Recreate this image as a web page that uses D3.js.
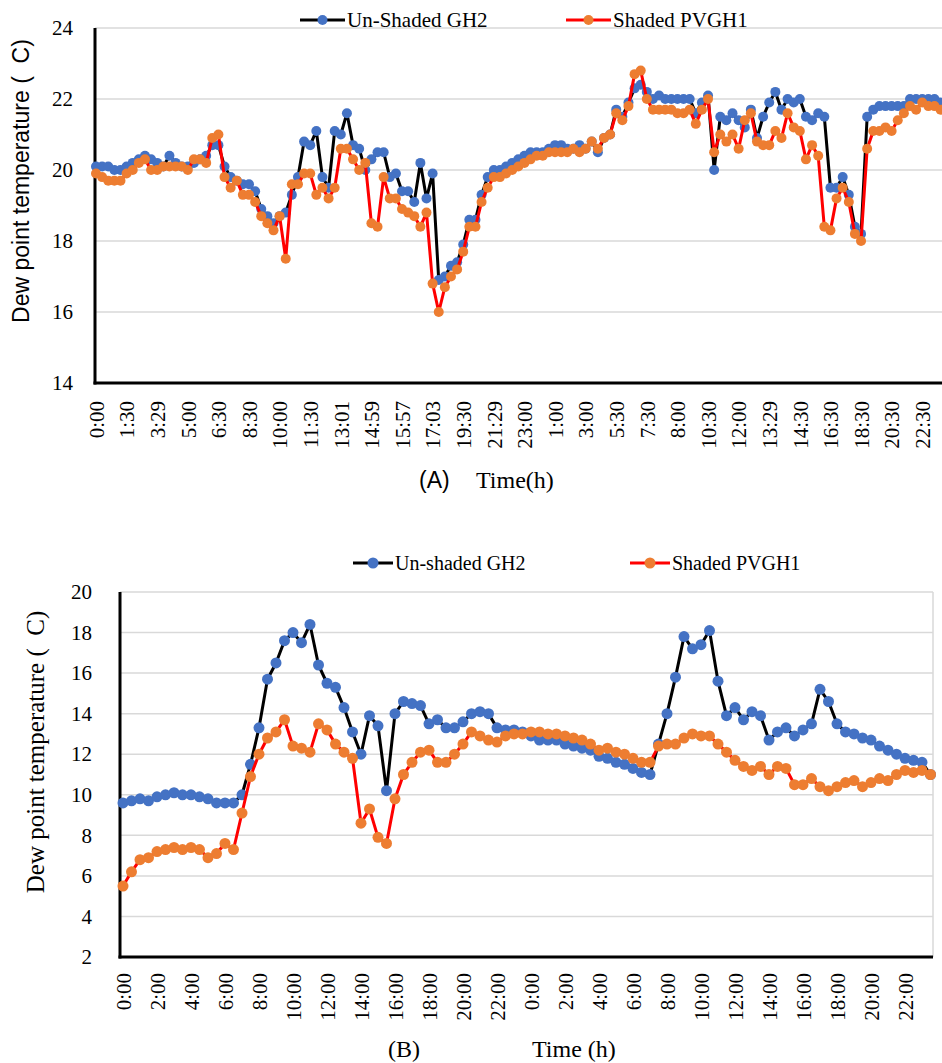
<!DOCTYPE html>
<html>
<head>
<meta charset="utf-8">
<script src="https://cdn.jsdelivr.net/npm/d3@7"></script>
<style>
  body { margin: 0; background: #fff; }
  text { font-family: "Liberation Serif", "Times New Roman", serif; fill: #000; }
</style>
</head>
<body>
<script>
// ---- panel A: two days, irregular logging times ----
const ticksA = ['0:00','1:30','3:29','5:00','6:30','8:30','10:00','11:30','13:01','14:59','15:57','17:03',
  '19:30','21:29','23:00','1:00','3:00','5:30','7:30','8:00','10:30','12:00','13:29','14:30','16:30',
  '18:30','20:30','22:30']

const unshadedA = [
  20.1,20.1,20.1,20.0,20.0,20.1,20.2,20.3,20.4,20.3, 20.2,20.1,20.4,20.2,20.1,20.1,20.2,20.3,20.4,20.7,
  20.7,20.1,19.8,19.7,19.6,19.6,19.4,18.9,18.7,18.5, 18.7,18.8,19.3,19.8,20.8,20.7,21.1,19.8,19.5,21.1,
  21.0,21.6,20.7,20.6,20.0,20.3,20.5,20.5,19.8,19.9, 19.4,19.4,19.1,20.2,19.2,19.9,16.9,17.0,17.3,17.4,
  17.9,18.6,18.6,19.3,19.8,20.0,20.0,20.1,20.2,20.3, 20.4,20.5,20.5,20.5,20.6,20.7,20.7,20.6,20.6,20.7,
  20.6,20.8,20.5,20.9,21.0,21.7,21.5,21.9,22.3,22.4, 22.2,22.0,22.1,22.0,22.0,22.0,22.0,22.0,21.6,21.9,
  22.1,20.0,21.5,21.4,21.6,21.4,21.2,21.7,20.9,21.5, 21.9,22.2,21.7,22.0,21.9,22.0,21.5,21.4,21.6,21.5,
  19.5,19.5,19.8,19.3,18.4,18.2,21.5,21.7,21.8,21.8, 21.8,21.8,21.8,22.0,22.0,22.0,22.0,22.0,21.9
]

const shadedA = [
  19.9,19.8,19.7,19.7,19.7,19.9,20.0,20.2,20.3,20.0, 20.0,20.1,20.1,20.1,20.1,20.0,20.3,20.3,20.2,20.9,
  21.0,19.8,19.5,19.7,19.3,19.3,19.1,18.7,18.5,18.3, 18.7,17.5,19.6,19.6,19.9,19.9,19.3,19.5,19.2,19.5,
  20.6,20.6,20.3,20.0,20.2,18.5,18.4,19.8,19.2,19.2, 18.9,18.8,18.7,18.4,18.8,16.8,16.0,16.7,17.0,17.2,
  17.7,18.4,18.4,19.1,19.5,19.8,19.8,19.9,20.0,20.1, 20.2,20.3,20.4,20.4,20.5,20.5,20.5,20.5,20.6,20.5,
  20.6,20.8,20.6,20.9,21.0,21.6,21.4,21.8,22.7,22.8, 22.0,21.7,21.7,21.7,21.7,21.6,21.6,21.7,21.3,21.7,
  22.0,20.5,21.0,20.8,21.0,20.6,21.4,21.6,20.8,20.7, 20.7,21.1,20.9,21.6,21.2,21.1,20.3,20.7,20.4,18.4,
  18.3,19.2,19.5,19.1,18.2,18.0,20.6,21.1,21.1,21.2, 21.1,21.4,21.6,21.8,21.7,21.9,21.8,21.8,21.7
]

// ---- panel B: two days, half-hourly ----
const ticksB = ['0:00','2:00','4:00','6:00','8:00','10:00','12:00','14:00','16:00','18:00','20:00','22:00',
  '0:00','2:00','4:00','6:00','8:00','10:00','12:00','14:00','16:00','18:00','20:00','22:00']

const unshadedB = [
  9.6,9.7,9.8,9.7,9.9,10.0,10.1,10.0,10.0,9.9, 9.8,9.6,9.6,9.6,10.0,11.5,13.3,15.7,16.5,17.6,
  18.0,17.5,18.4,16.4,15.5,15.3,14.3,13.1,12.0,13.9, 13.4,10.2,14.0,14.6,14.5,14.4,13.5,13.7,13.3,13.3,
  13.6,14.0,14.1,14.0,13.3,13.2,13.2,13.1,12.9,12.7, 12.7,12.7,12.5,12.4,12.3,12.2,11.9,11.8,11.6,11.5,
  11.3,11.1,11.0,12.5,14.0,15.8,17.8,17.2,17.4,18.1, 15.6,13.9,14.3,13.7,14.1,13.9,12.7,13.1,13.3,12.9,
  13.2,13.5,15.2,14.6,13.5,13.1,13.0,12.8,12.7,12.4, 12.2,12.0,11.8,11.7,11.6,11.0
]

const shadedB = [
  5.5,6.2,6.8,6.9,7.2,7.3,7.4,7.3,7.4,7.3, 6.9,7.1,7.6,7.3,9.1,10.9,12.0,12.8,13.1,13.7,
  12.4,12.3,12.1,13.5,13.2,12.5,12.1,11.8,8.6,9.3, 7.9,7.6,9.8,11.0,11.6,12.1,12.2,11.6,11.6,12.0,
  12.5,13.1,12.9,12.7,12.6,12.9,13.0,13.0,13.1,13.1, 13.0,13.0,12.9,12.8,12.7,12.5,12.2,12.3,12.1,12.0,
  11.8,11.6,11.6,12.4,12.5,12.5,12.8,13.0,12.9,12.9, 12.5,12.1,11.7,11.4,11.2,11.4,11.0,11.4,11.3,10.5,
  10.5,10.8,10.4,10.2,10.4,10.6,10.7,10.4,10.6,10.8, 10.7,11.0,11.2,11.1,11.2,11.0
]

const w = 942
const h = 1063

const blue = '#4472C4'
const orange = '#ED7D31'

const svg = d3.select('body')
              .append('svg')
              .attr('width', w)
              .attr('height', h)

drawPanel = (cfg) => {
  const xScale = d3.scaleLinear()
                   .domain([0, cfg.series[0].values.length - 1])
                   .range([cfg.firstX, cfg.lastX])

  const yScale = d3.scaleLinear()
                   .domain(cfg.yDomain)
                   .range([cfg.bottom, cfg.top])

  const yTicks = d3.range(cfg.yDomain[0], cfg.yDomain[1] + 0.01, 2)

  // gridlines
  svg.append('g')
     .selectAll('line')
     .data(yTicks)
     .enter()
     .append('line')
     .attr('x1', cfg.left)
     .attr('x2', cfg.right)
     .attr('y1', d => yScale(d))
     .attr('y2', d => yScale(d))
     .attr('stroke', '#d9d9d9')
     .attr('stroke-width', 1.5)

  if (cfg.frame) {
    svg.append('line')
       .attr('x1', cfg.right).attr('x2', cfg.right)
       .attr('y1', cfg.top).attr('y2', cfg.bottom)
       .attr('stroke', '#d9d9d9')
       .attr('stroke-width', 1.5)
  }

  // y labels
  const yAxis = d3.axisLeft(yScale)
                  .tickValues(yTicks)
                  .tickSize(0)
                  .tickPadding(cfg.yPad)
  const gy = svg.append('g')
                .attr('transform', `translate(${cfg.left}, 0)`)
                .call(yAxis)
  gy.select('.domain').remove()
  gy.selectAll('text')
    .style('font-family', '"Liberation Serif", serif')
    .style('font-size', '21px')
    .attr('fill', '#000')

  // x labels, vertical
  const xAxis = d3.axisBottom(xScale)
                  .tickValues(cfg.ticks.map((t, k) => k * cfg.every))
                  .tickFormat((d) => cfg.ticks[d / cfg.every])
                  .tickSize(0)
  const gx = svg.append('g')
                .attr('transform', `translate(0, ${cfg.bottom})`)
                .call(xAxis)
  gx.select('.domain').remove()
  gx.selectAll('text')
    .attr('transform', 'rotate(-90)')
    .attr('x', -cfg.xPad)
    .attr('y', 0)
    .attr('dy', '0.35em')
    .style('text-anchor', 'end')
    .style('font-family', '"Liberation Serif", serif')
    .style('font-size', '21px')
    .attr('fill', '#000')

  // axis lines
  svg.append('line')
     .attr('x1', cfg.left).attr('x2', cfg.left)
     .attr('y1', cfg.top).attr('y2', cfg.bottom + 1.5)
     .attr('stroke', '#000').attr('stroke-width', 3)
  svg.append('line')
     .attr('x1', cfg.left - 1.5).attr('x2', cfg.right)
     .attr('y1', cfg.bottom).attr('y2', cfg.bottom)
     .attr('stroke', '#000').attr('stroke-width', 3)

  const line = d3.line()
                 .x((d, i) => xScale(i))
                 .y((d) => yScale(d))

  cfg.series.forEach(s => {
    svg.append('path')
       .datum(s.values)
       .attr('d', line)
       .attr('fill', 'none')
       .attr('stroke', s.stroke)
       .attr('stroke-width', 3)
       .attr('stroke-linejoin', 'round')

    svg.append('g')
       .selectAll('circle')
       .data(s.values)
       .enter()
       .append('circle')
       .attr('cx', (d, i) => xScale(i))
       .attr('cy', (d) => yScale(d))
       .attr('r', cfg.r)
       .attr('fill', s.fill)
  })

  // legend
  cfg.series.forEach(s => {
    const lg = svg.append('g')
    lg.append('line')
      .attr('x1', s.legendX).attr('x2', s.legendX + cfg.legendLen)
      .attr('y1', cfg.legendY).attr('y2', cfg.legendY)
      .attr('stroke', s.stroke).attr('stroke-width', 3)
    lg.append('circle')
      .attr('cx', s.legendX + cfg.legendLen / 2)
      .attr('cy', cfg.legendY)
      .attr('r', cfg.r)
      .attr('fill', s.fill)
    lg.append('text')
      .attr('x', s.legendX + cfg.legendLen + 2)
      .attr('y', cfg.legendY)
      .attr('dy', '0.35em')
      .style('font-size', cfg.legendSize + 'px')
      .text(s.name)
  })
}

drawPanel({
  series: [
    {name: 'Un-Shaded GH2', values: unshadedA, stroke: '#000', fill: blue, legendX: 300},
    {name: 'Shaded PVGH1', values: shadedA, stroke: '#ff0000', fill: orange, legendX: 566}
  ],
  ticks: ticksA, every: 5,
  yDomain: [14, 24],
  left: 95, right: 942, firstX: 96, lastX: 940.6,
  top: 28, bottom: 383,
  yPad: 22, xPad: 18, r: 5,
  legendY: 20, legendLen: 45, legendSize: 21
})

drawPanel({
  series: [
    {name: 'Un-shaded GH2', values: unshadedB, stroke: '#000', fill: blue, legendX: 353},
    {name: 'Shaded PVGH1', values: shadedB, stroke: '#ff0000', fill: orange, legendX: 630}
  ],
  ticks: ticksB, every: 4,
  yDomain: [2, 20],
  left: 120, right: 933, firstX: 123, lastX: 930.5,
  top: 592, bottom: 957,
  yPad: 28, xPad: 16, r: 5.5, frame: true,
  legendY: 563, legendLen: 40, legendSize: 20
})

// axis titles
svg.append('text')
   .attr('transform', 'translate(21, 181) rotate(-90)')
   .attr('dy', '0.35em')
   .style('text-anchor', 'middle')
   .style('font-family', '"Liberation Sans", Arial, sans-serif')
   .style('font-size', '23px')
   .text('Dew point temperature (\u00a0\u00a0C)')

svg.append('text')
   .attr('transform', 'translate(35, 752) rotate(-90)')
   .attr('dy', '0.35em')
   .style('text-anchor', 'middle')
   .style('font-size', '25px')
   .text('Dew point temperature (\u00a0\u00a0C)')

svg.append('text')
   .attr('x', 419).attr('y', 488)
   .style('font-family', '"Liberation Sans", Arial, sans-serif')
   .style('font-size', '23px')
   .text('(A)')

svg.append('text')
   .attr('x', 476).attr('y', 488)
   .style('font-size', '24px')
   .text('Time(h)')

svg.append('text')
   .attr('x', 388).attr('y', 1057)
   .style('font-size', '24px')
   .text('(B)')

svg.append('text')
   .attr('x', 532).attr('y', 1057)
   .style('font-size', '24px')
   .text('Time (h)')
</script>
</body>
</html>
